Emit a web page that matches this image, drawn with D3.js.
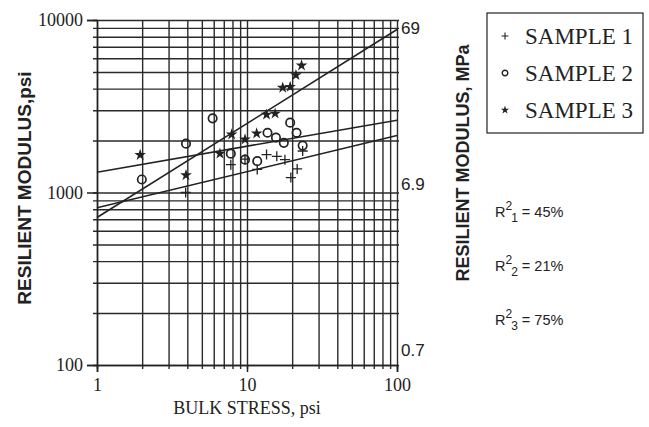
<!DOCTYPE html>
<html>
<head>
<meta charset="utf-8">
<script src="https://cdn.jsdelivr.net/npm/d3@7"></script>
<style>
  body { margin: 0; background: #fff; }
  text { fill: #222; }
</style>
</head>
<body>
<svg id="chart" width="649" height="427"></svg>
<script>
// Axis ticks
const xTicks = [1, 10, 100];
const yTicks = [100, 1000, 10000];
const mpaTicks = [69, 6.9, 0.7];
const xGrid = [1, 2, 3, 4, 5, 6, 7, 8, 9, 10, 20, 30, 40, 50, 60, 70, 80, 90, 100];
const yGrid = [100, 200, 300, 400, 500, 600, 700, 800, 900, 1000,
               2000, 3000, 4000, 5000, 6000, 7000, 8000, 9000, 10000];

// Bulk stress (psi) and resilient modulus (psi) for each sample
const sample1X = [3.9, 7.8, 9.7, 11.7, 13.5, 15.8, 17.9, 19.6, 21.6, 23.5];
const sample1Y = [1000, 1450, 1560, 1360, 1660, 1620, 1550, 1220, 1370, 1740];
const sample2X = [1.99, 3.92, 5.9, 7.8, 9.7, 11.7, 13.7, 15.6, 17.6, 19.4, 21.4, 23.5];
const sample2Y = [1190, 1920, 2690, 1680, 1550, 1520, 2220, 2080, 1940, 2540, 2220, 1870];
const sample3X = [1.94, 3.92, 6.6, 7.9, 9.7, 11.6, 13.5, 15.4, 17.3, 19.4, 21.2, 23.1];
const sample3Y = [1650, 1260, 1680, 2170, 2030, 2200, 2830, 2870, 4050, 4100, 4790, 5450];

// Power-law fits, evaluated at the ends of the stress range
const fitX = [1, 100];
const fit1Y = [815, 2140];
const fit2Y = [1311, 2626];
const fit3Y = [716, 8810];

const legendLabels = ["SAMPLE 1", "SAMPLE 2", "SAMPLE 3"];
const rSquared = [45, 21, 75];

const PSI_TO_MPA = 0.006895;

const svg = d3.select("#chart");
const serif = "'Liberation Serif', 'Times New Roman', serif";
const sans = "'Liberation Sans', Arial, sans-serif";
const ink = "#222";

const x = d3.scaleLog().domain([1, 100]).range([97, 397]);
const y = d3.scaleLog().domain([100, 10000]).range([365, 20]);
const yMpa = d3.scaleLog().domain([100 * PSI_TO_MPA, 10000 * PSI_TO_MPA]).range([365, 20]);

// Grid: horizontal lines reach a little past the left edge as minor ticks
const hGrid = svg.append("g")
  .attr("transform", `translate(${x(1) - 4},0)`)
  .call(d3.axisLeft(y).tickValues(yGrid).tickSizeInner(-(x(100) - x(1) + 6)).tickSizeOuter(0).tickFormat(""));
hGrid.select(".domain").remove();
hGrid.selectAll("line").attr("stroke", "#2a2a2a").attr("stroke-width", 1.4);

const vGrid = svg.append("g")
  .attr("transform", `translate(0,${y(100) + 4})`)
  .call(d3.axisBottom(x).tickValues(xGrid).tickSizeInner(-(y(100) - y(10000) + 4)).tickSizeOuter(0).tickFormat(""));
vGrid.select(".domain").remove();
vGrid.selectAll("line").attr("stroke", "#2a2a2a").attr("stroke-width", 1.4);

// Major axes with labels
const leftAxis = svg.append("g")
  .attr("transform", `translate(${x(1)},0)`)
  .call(d3.axisLeft(y).tickValues(yTicks).tickSize(10).tickFormat(d3.format("d")));
leftAxis.select(".domain").attr("stroke", ink).attr("stroke-width", 1.5);
leftAxis.selectAll("line").attr("stroke", ink).attr("stroke-width", 1.5);
leftAxis.selectAll("text").attr("font-family", serif).attr("font-size", 18).attr("fill", ink).attr("dx", -1);

const bottomAxis = svg.append("g")
  .attr("transform", `translate(0,${y(100)})`)
  .call(d3.axisBottom(x).tickValues(xTicks).tickSize(7).tickFormat(d3.format("d")));
bottomAxis.select(".domain").attr("stroke", ink).attr("stroke-width", 1.5);
bottomAxis.selectAll("line").attr("stroke", ink).attr("stroke-width", 1.5);
bottomAxis.selectAll("text").attr("font-family", serif).attr("font-size", 18).attr("fill", ink).attr("dy", "0.9em");

// Right-hand MPa labels
const mpaNudge = [8, -8, -14];
svg.append("g").selectAll("text")
  .data(mpaTicks)
  .join("text")
  .attr("x", x(100) + 4)
  .attr("y", (d, i) => yMpa(d) + mpaNudge[i])
  .attr("dy", "0.35em")
  .attr("font-family", sans)
  .attr("font-size", 17)
  .text(d => d);

// Fitted lines
const line = d3.line().x(d => x(d[0])).y(d => y(d[1]));
[fit1Y, fit2Y, fit3Y].forEach(fy => {
  svg.append("path")
    .datum(fitX.map((v, i) => [v, fy[i]]))
    .attr("d", line)
    .attr("fill", "none")
    .attr("stroke", ink)
    .attr("stroke-width", 1.6);
});

// Markers
const plusPath = s => `M${-s},0H${s}M0,${-s}V${s}`;
const star = d3.symbol().type(d3.symbolStar);

svg.append("g").selectAll("path")
  .data(sample1X.map((v, i) => [v, sample1Y[i]]))
  .join("path")
  .attr("transform", d => `translate(${x(d[0])},${y(d[1])})`)
  .attr("d", plusPath(5))
  .attr("stroke", ink).attr("stroke-width", 1.3).attr("fill", "none");

svg.append("g").selectAll("circle")
  .data(sample2X.map((v, i) => [v, sample2Y[i]]))
  .join("circle")
  .attr("cx", d => x(d[0])).attr("cy", d => y(d[1])).attr("r", 4.2)
  .attr("stroke", ink).attr("stroke-width", 1.7).attr("fill", "none");

svg.append("g").selectAll("path")
  .data(sample3X.map((v, i) => [v, sample3Y[i]]))
  .join("path")
  .attr("transform", d => `translate(${x(d[0])},${y(d[1])})`)
  .attr("d", star.size(42)())
  .attr("fill", ink);

// Axis titles
svg.append("text")
  .attr("transform", "translate(31,188) rotate(-90)")
  .attr("text-anchor", "middle")
  .attr("font-family", sans).attr("font-weight", "bold").attr("font-size", 19)
  .text("RESILIENT MODULUS,psi");

svg.append("text")
  .attr("transform", "translate(469,163) rotate(-90)")
  .attr("text-anchor", "middle")
  .attr("font-family", sans).attr("font-weight", "bold").attr("font-size", 18)
  .text("RESILIENT MODULUS, MPa");

svg.append("text")
  .attr("x", 247).attr("y", 414)
  .attr("text-anchor", "middle")
  .attr("font-family", serif).attr("font-size", 18)
  .text("BULK STRESS, psi");

// Legend
const legend = svg.append("g");
legend.append("rect")
  .attr("x", 487).attr("y", 13).attr("width", 156).attr("height", 120)
  .attr("fill", "none").attr("stroke", ink).attr("stroke-width", 1.2);
const legendRows = legend.selectAll("g.row")
  .data(legendLabels)
  .join("g")
  .attr("class", "row")
  .attr("transform", (d, i) => `translate(505,${36 + i * 37})`);
legendRows.append("text")
  .attr("x", 20).attr("dy", "0.35em")
  .attr("font-family", serif).attr("font-size", 23)
  .text(d => d);
legendRows.filter((d, i) => i === 0).append("path")
  .attr("d", plusPath(3.5)).attr("stroke", ink).attr("stroke-width", 1.1);
legendRows.filter((d, i) => i === 1).append("circle")
  .attr("r", 2.8).attr("fill", "none").attr("stroke", ink).attr("stroke-width", 1.4);
legendRows.filter((d, i) => i === 2).append("path")
  .attr("d", star.size(22)()).attr("fill", ink);

// Coefficients of determination
const rText = svg.append("g").selectAll("text")
  .data(rSquared)
  .join("text")
  .attr("x", 495)
  .attr("y", (d, i) => 217 + i * 54)
  .attr("font-family", sans).attr("font-size", 14.5);
rText.append("tspan").text("R");
rText.append("tspan").attr("dy", -7).attr("font-size", 12).text("2");
rText.append("tspan").attr("dy", 12).attr("dx", -1).attr("font-size", 12).text((d, i) => i + 1);
rText.append("tspan").attr("dy", -5).attr("dx", 4).text(d => `= ${d}%`);
</script>
</body>
</html>
